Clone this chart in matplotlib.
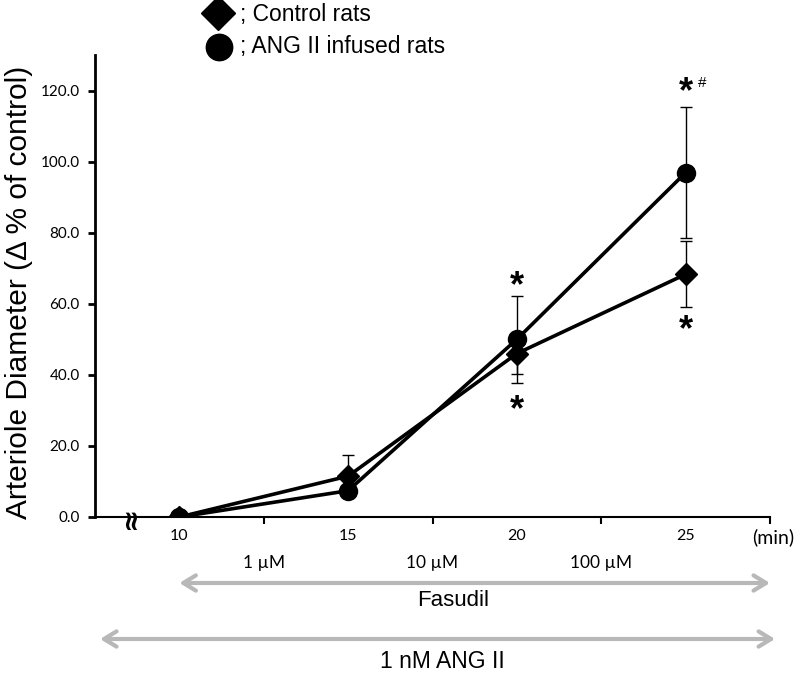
import matplotlib
matplotlib.use("Agg")
import matplotlib.pyplot as plt
import matplotlib.transforms as mtransforms
import numpy as np

# ---- data ----
times = [10, 15, 20, 25]
control_mean = [0.0, 11.5, 46.0, 68.3]
control_err = [0.0, 5.9, 5.8, 9.3]
ang_mean = [0.0, 7.4, 50.0, 96.9]
ang_err = [0.0, 0.0, 12.3, 18.4]
conc_labels = ["1 µM", "10 µM", "100 µM"]
y_ticks = [0, 20, 40, 60, 80, 100, 120]

W, H = 802, 675
fig = plt.figure(figsize=(W / 100, H / 100), dpi=100)
ax = fig.add_axes([95 / W, 1 - 517 / H, (770 - 95) / W, (517 - 55) / H])

tick_font = "Lato"
main_font = "Liberation Sans"

ax.errorbar(times, ang_mean, yerr=ang_err, fmt="none", ecolor="black",
            elinewidth=1.0, capsize=4, capthick=1.0, zorder=2)
ax.errorbar(times, control_mean, yerr=control_err, fmt="none", ecolor="black",
            elinewidth=1.0, capsize=4, capthick=1.0, zorder=2)
ax.plot(times, control_mean, color="black", lw=2.6, marker="D", ms=11,
        markerfacecolor="black", zorder=4)
ax.plot(times, ang_mean, color="black", lw=2.6, marker="o", ms=13,
        markerfacecolor="black", zorder=3)

ax.set_xlim(7.5, 27.5)
ax.set_ylim(0, 130)
for s in ["top", "right"]:
    ax.spines[s].set_visible(False)
ax.spines["left"].set_linewidth(2.0)
ax.spines["bottom"].set_linewidth(1.5)

ax.set_yticks(y_ticks)
ax.set_yticklabels([f"{v:.1f}" for v in y_ticks], fontfamily=tick_font, fontsize=11)
ax.tick_params(axis="y", direction="out", length=5, width=2, pad=6)

ax.set_xticks([12.5, 17.5, 22.5, 27.5])
ax.set_xticklabels([])
ax.tick_params(axis="x", direction="out", length=5, width=1.5)
ax.set_xticks(times, minor=True)
ax.set_xticklabels([str(t) for t in times], minor=True, fontfamily=tick_font, fontsize=11.5)
ax.tick_params(axis="x", which="minor", length=0, pad=9)

# axis break symbol
ax.text(8.54, 0, "≈", rotation=90, ha="center", va="center", fontsize=20,
        fontweight="bold", fontfamily="DejaVu Sans", clip_on=False, zorder=5)

ax.set_ylabel("Arteriole Diameter (Δ % of control)", fontfamily=main_font,
              fontsize=21.5)
ax.yaxis.set_label_coords(-62 / (770 - 95), (517 - 292) / (517 - 55))

# significance markers
star_kw = dict(ha="center", va="center", fontsize=26, fontweight="bold",
               fontfamily=main_font, clip_on=False)
ax.text(20, ang_mean[2] + ang_err[2] + 2.5, "*", **star_kw)
ax.text(20, control_mean[2] - control_err[2] - 10.3, "*", **star_kw)
ax.text(25, control_mean[3] - control_err[3] - 6.5, "*", **star_kw)
ax.text(25, ang_mean[3] + ang_err[3] + 4.0, "*", **star_kw)
ax.text(25.5, ang_mean[3] + ang_err[3] + 6.7, "#", ha="center", va="center",
        fontsize=11, fontfamily=main_font, clip_on=False)

# below-axis annotations: x in data, y in figure pixels
trans = mtransforms.blended_transform_factory(ax.transData, fig.transFigure)
def fy(py):
    return 1 - py / H

ax.text(27.6, fy(537), "(min)", transform=trans, ha="center", va="center",
        fontfamily=tick_font, fontsize=14, clip_on=False)
for xc, lab in zip([12.5, 17.5, 22.5], conc_labels):
    ax.text(xc, fy(563), lab, transform=trans, ha="center", va="center",
            fontfamily=tick_font, fontsize=12.5, clip_on=False)

arrow_kw = dict(arrowstyle="<->,head_length=0.9,head_width=0.55", color="#b8b8b8",
                lw=3.0, shrinkA=0, shrinkB=0)
ax.annotate("", xy=(27.5, fy(583)), xytext=(10.0, fy(583)), xycoords=trans,
            textcoords=trans, arrowprops=arrow_kw, annotation_clip=False)
ax.annotate("", xy=(27.65, fy(639)), xytext=(7.65, fy(639)), xycoords=trans,
            textcoords=trans, arrowprops=arrow_kw, annotation_clip=False)
ax.text(18.1, fy(601), "Fasudil", transform=trans, ha="center", va="center",
        fontfamily=main_font, fontsize=16, clip_on=False)
ax.text(17.8, fy(661), "1 nM ANG II", transform=trans, ha="center", va="center",
        fontfamily=main_font, fontsize=16.5, clip_on=False)

# legend (hand-drawn at top)
fig.lines.append(plt.Line2D([218 / W], [fy(13)], marker="D", ms=17, color="black",
                            transform=fig.transFigure))
fig.lines.append(plt.Line2D([219 / W], [fy(47)], marker="o", ms=19, color="black",
                            transform=fig.transFigure))
fig.text(240 / W, fy(14), "; Control rats", ha="left", va="center",
         fontfamily=main_font, fontsize=16.5)
fig.text(240 / W, fy(47), "; ANG II infused rats", ha="left", va="center",
         fontfamily=main_font, fontsize=16.5)

fig.savefig("out.png", dpi=100)
